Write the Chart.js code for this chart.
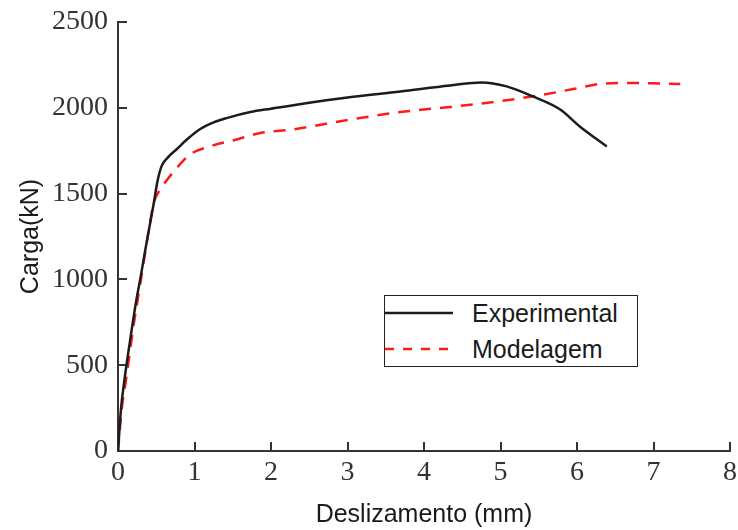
<!DOCTYPE html>
<html>
<head>
<meta charset="utf-8">
<script src="https://cdn.jsdelivr.net/npm/chart.js@4.4.0/dist/chart.umd.min.js"></script>
<style>
  body { margin: 0; background: #fff; }
  #wrap { position: relative; width: 738px; height: 530px; }
  #legend {
    position: absolute; left: 384px; top: 295px; width: 252px; height: 70px;
    border: 1.5px solid #222; background: #fff;
    font-family: "Liberation Sans", Arial, sans-serif; font-size: 25px; color: #1a1a1a;
  }
  #legend .item { position: absolute; left: 0; height: 30px; display: flex; align-items: center; }
  #legend svg { margin-right: 19px; }
</style>
</head>
<body>
<div id="wrap">
  <canvas id="myChart" width="738" height="530"></canvas>
  <div id="legend"></div>
</div>
<script>
// Datos
const expX = [0, 0.04, 0.08, 0.15, 0.24, 0.29, 0.36, 0.46, 0.52, 0.57, 0.65, 0.77, 0.9, 1.07, 1.25, 1.42, 1.73, 2.0, 2.5, 3.0, 3.69, 4.34, 4.75, 5.08, 5.43, 5.78, 6.04, 6.39];
const expY = [0, 250, 400, 620, 880, 1000, 1180, 1425, 1580, 1660, 1710, 1760, 1815, 1875, 1915, 1940, 1975, 1995, 2030, 2060, 2095, 2130, 2148, 2125, 2065, 1990, 1890, 1775];

const modX = [0, 0.05, 0.1, 0.2, 0.3, 0.4, 0.47, 0.55, 0.65, 0.75, 0.94, 1.2, 1.55, 1.86, 2.3, 3.03, 3.69, 4.34, 4.78, 5.43, 5.95, 6.3, 6.65, 7.0, 7.35];
const modY = [0, 250, 400, 720, 1000, 1280, 1450, 1523, 1585, 1640, 1727, 1775, 1815, 1853, 1875, 1931, 1975, 2005, 2027, 2067, 2109, 2139, 2145, 2143, 2139];

const xTicks = [0, 1, 2, 3, 4, 5, 6, 7, 8];
const yTicks = [0, 500, 1000, 1500, 2000, 2500];

const seriesNames = ["Experimental", "Modelagem"];

function toPoints(xs, ys) {
    return xs.map((v, i) => ({ x: v, y: ys[i] }));
}

const tickFont = { family: "'Liberation Serif', 'Times New Roman', serif", size: 28 };
const titleFont = { family: "'Liberation Sans', Arial, sans-serif", size: 25 };

// marcas de los ticks hacia dentro (tickLength negativo)
const innerGrid = {
    display: true,
    drawOnChartArea: false,
    drawTicks: true,
    tickLength: -9,
    color: "#333",
    lineWidth: 2,
};

const ctxMain = document.getElementById("myChart").getContext("2d");
const myChart = new Chart(ctxMain, {
    type: "scatter",
    data: {
        datasets: [
            {
                label: seriesNames[0],
                data: toPoints(expX, expY),
                showLine: true,
                borderColor: "#1c1c1c",
                borderWidth: 2.5,
                pointRadius: 0,
                cubicInterpolationMode: "monotone",
            },
            {
                label: seriesNames[1],
                data: toPoints(modX, modY),
                showLine: true,
                borderColor: "#ff1a1a",
                borderWidth: 2.5,
                borderDash: [12, 9],
                pointRadius: 0,
                cubicInterpolationMode: "monotone",
            }
        ],
    },
    options: {
        responsive: false,
        animation: false,
        layout: { padding: { top: 22, right: 8, left: 0, bottom: 0 } },
        plugins: {
            legend: { display: false },
            tooltip: { enabled: false },
        },
        scales: {
            x: {
                type: "linear",
                min: 0,
                max: 8,
                afterBuildTicks: s => { s.ticks = xTicks.map(v => ({ value: v })); },
                afterFit: s => {
                    s.height = 79;
                    s.paddingLeft = 0;
                    s.paddingRight = 0;
                },
                grid: innerGrid,
                border: { display: true, color: "#333", width: 2 },
                ticks: {
                    padding: 14,
                    color: "#333",
                    font: tickFont,
                    callback: v => String(v),
                },
                title: {
                    display: true,
                    text: "Deslizamento (mm)",
                    color: "#1a1a1a",
                    padding: { top: 6, bottom: 0 },
                    font: titleFont,
                },
            },
            y: {
                type: "linear",
                min: 0,
                max: 2500,
                afterBuildTicks: s => { s.ticks = yTicks.map(v => ({ value: v })); },
                afterFit: s => {
                    s.width = 118;
                    s.paddingTop = 0;
                    s.paddingBottom = 0;
                },
                grid: innerGrid,
                border: { display: true, color: "#333", width: 2 },
                ticks: {
                    padding: 19,
                    color: "#333",
                    font: tickFont,
                    callback: v => String(v),
                },
                title: {
                    display: true,
                    text: "Carga(kN)",
                    color: "#1a1a1a",
                    padding: { top: 16, bottom: 0 },
                    font: titleFont,
                },
            },
        },
    },
});

// Leyenda en HTML
const legend = document.getElementById("legend");
myChart.data.datasets.forEach((ds, i) => {
    const item = document.createElement("div");
    item.className = "item";
    item.style.top = (i === 0 ? 2 : 38) + "px";
    const dash = ds.borderDash ? 'stroke-dasharray="9 9"' : "";
    item.innerHTML =
        '<svg width="68" height="10"><line x1="0" y1="5" x2="68" y2="5" stroke="' + ds.borderColor +
        '" stroke-width="2.5" ' + dash + '/></svg><span>' + ds.label + "</span>";
    legend.appendChild(item);
});
</script>
</body>
</html>
